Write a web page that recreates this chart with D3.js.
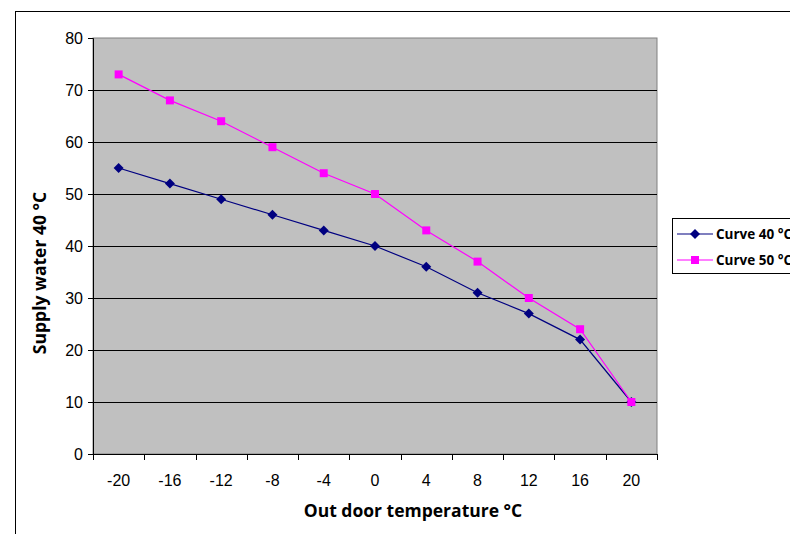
<!DOCTYPE html>
<html>
<head>
<meta charset="utf-8">
<script src="https://cdn.jsdelivr.net/npm/d3@7"></script>
<style>
  body { margin: 0; background: #fff; }
  svg { display: block; }
  .tick text { font-family: "Liberation Sans", Arial, sans-serif; font-size: 16px; fill: #000; }
  .title { font-family: "Open Sans", sans-serif; font-weight: bold; font-size: 17.5px; }
  .leg { font-family: "Open Sans", sans-serif; font-weight: bold; font-size: 13.5px; }
</style>
</head>
<body>
<div id="chart"></div>
<script>
var temps = ["-20", "-16", "-12", "-8", "-4", "0", "4", "8", "12", "16", "20"];
var curve40 = [55, 52, 49, 46, 43, 40, 36, 31, 27, 22, 10];
var curve50 = [73, 68, 64, 59, 54, 50, 43, 37, 30, 24, 10];
var yTicks = [0, 10, 20, 30, 40, 50, 60, 70, 80];

var W = 790, H = 534;
var plot = { left: 93, right: 657, top: 38, bottom: 454 };

var svg = d3.select("#chart").append("svg")
    .attr("width", W)
    .attr("height", H);

// outer chart border
svg.append("rect")
    .attr("x", 15.5).attr("y", 11.5)
    .attr("width", 800).attr("height", 540)
    .attr("fill", "#fff").attr("stroke", "#000");

var x = d3.scaleBand()
    .domain(temps)
    .range([plot.left, plot.right]);

var y = d3.scaleLinear()
    .domain([0, 80])
    .range([plot.bottom, plot.top]);

// plot background
svg.append("rect")
    .attr("x", plot.left).attr("y", plot.top)
    .attr("width", plot.right - plot.left).attr("height", plot.bottom - plot.top)
    .attr("fill", "#C0C0C0").attr("stroke", "#808080");

// gridlines
svg.append("g")
    .selectAll("line")
    .data(yTicks.filter(function (d) { return d > 0 && d < 80; }))
    .enter().append("line")
    .attr("x1", plot.left).attr("x2", plot.right)
    .attr("y1", function (d) { return Math.round(y(d)) + 0.5; })
    .attr("y2", function (d) { return Math.round(y(d)) + 0.5; })
    .attr("stroke", "#000");

// y axis
var yAxis = d3.axisLeft(y)
    .tickValues(yTicks)
    .tickSize(5)
    .tickPadding(5);
var gy = svg.append("g")
    .attr("transform", "translate(" + plot.left + ",0)")
    .call(yAxis);
gy.select(".domain").attr("stroke", "#000");

// x axis - ticks at category boundaries
var gx = svg.append("g")
    .attr("transform", "translate(0," + plot.bottom + ")");
gx.append("line")
    .attr("x1", plot.left).attr("x2", plot.right)
    .attr("y1", 0.5).attr("y2", 0.5)
    .attr("stroke", "#000");
var bounds = temps.map(function (d) { return x(d); }).concat([plot.right]);
gx.selectAll(".bt")
    .data(bounds)
    .enter().append("line")
    .attr("x1", function (d) { return Math.round(d) + 0.5; })
    .attr("x2", function (d) { return Math.round(d) + 0.5; })
    .attr("y1", 0).attr("y2", 6)
    .attr("stroke", "#000");
gx.selectAll(".tick")
    .data(temps)
    .enter().append("g")
    .attr("class", "tick")
    .append("text")
    .attr("x", function (d) { return x(d) + x.bandwidth() / 2; })
    .attr("y", 32)
    .attr("text-anchor", "middle")
    .text(function (d) { return d; });

// axis titles
svg.append("text")
    .attr("class", "title")
    .attr("x", 413)
    .attr("y", 517)
    .attr("text-anchor", "middle")
    .text("Out door temperature °C");

svg.append("text")
    .attr("class", "title")
    .attr("transform", "translate(46,273) rotate(-90)")
    .attr("text-anchor", "middle")
    .text("Supply water 40 °C");

var line = d3.line()
    .x(function (d, i) { return x(temps[i]) + x.bandwidth() / 2; })
    .y(function (d) { return y(d); });

// square diamond marker
var diamond = {
  draw: function (ctx, size) {
    var r = Math.sqrt(size / 2);
    ctx.moveTo(0, -r);
    ctx.lineTo(r, 0);
    ctx.lineTo(0, r);
    ctx.lineTo(-r, 0);
    ctx.closePath();
  }
};

var series = [
  { name: "Curve 40 °C", values: curve40, color: "#000080", shape: diamond, size: 50 },
  { name: "Curve 50 °C", values: curve50, color: "#FF00FF", shape: d3.symbolSquare, size: 64 }
];

series.forEach(function (s) {
  svg.append("path")
      .datum(s.values)
      .attr("d", line)
      .attr("fill", "none")
      .attr("stroke", s.color)
      .attr("stroke-width", 1.2);
});
series.forEach(function (s) {
  svg.append("g").selectAll("path")
      .data(s.values)
      .enter().append("path")
      .attr("d", d3.symbol().type(s.shape).size(s.size))
      .attr("transform", function (d, i) {
        return "translate(" + (x(temps[i]) + x.bandwidth() / 2) + "," + y(d) + ")";
      })
      .attr("fill", s.color);
});

// legend
var lg = svg.append("g");
lg.append("rect")
    .attr("x", 672.5).attr("y", 218.5)
    .attr("width", 140).attr("height", 55)
    .attr("fill", "#fff").attr("stroke", "#000");
series.forEach(function (s, i) {
  var ly = 234 + i * 26;
  lg.append("line")
      .attr("x1", 677).attr("x2", 713)
      .attr("y1", ly).attr("y2", ly)
      .attr("stroke", s.color).attr("stroke-width", 1.2);
  lg.append("path")
      .attr("d", d3.symbol().type(s.shape).size(s.size))
      .attr("transform", "translate(695," + ly + ")")
      .attr("fill", s.color);
  lg.append("text")
      .attr("class", "leg")
      .attr("x", 716).attr("y", ly + 5)
      .text(s.name);
});
</script>
</body>
</html>
